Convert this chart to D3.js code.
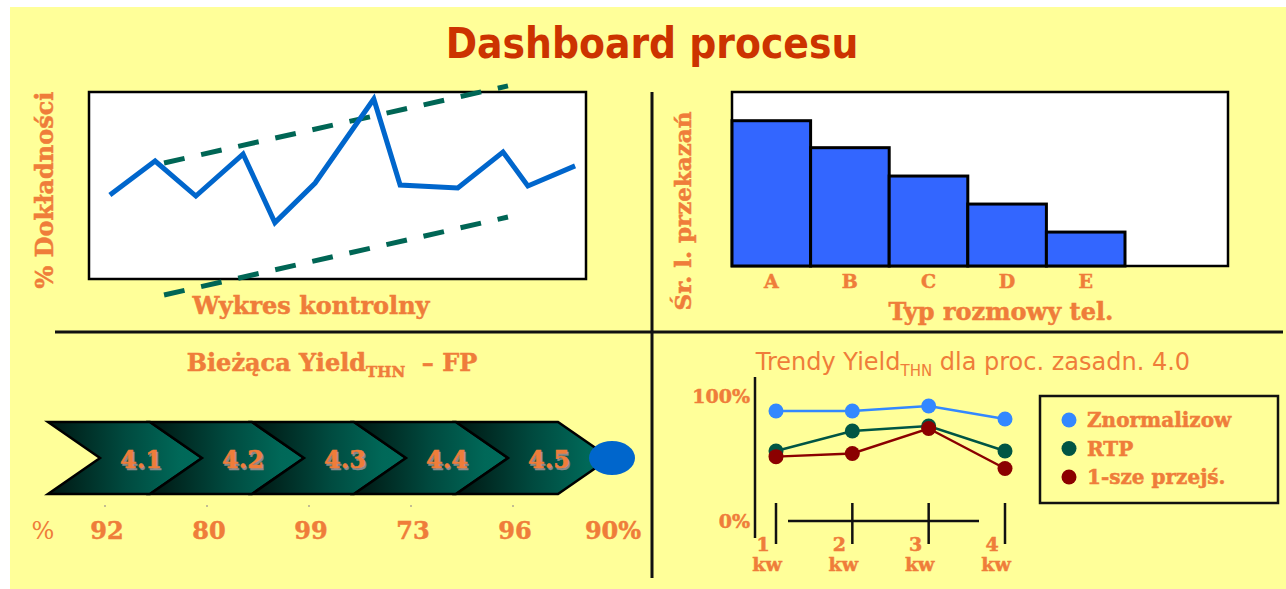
<!DOCTYPE html>
<html><head><meta charset="utf-8">
<script src="https://cdn.jsdelivr.net/npm/d3@7"></script>
<style>html,body{margin:0;padding:0;background:#fff;} svg{display:block;}</style>
</head><body><svg id="chart"></svg>
<script>
// Control chart samples: position along the run (0-100) and accuracy (%)
const controlPos = [4.2, 13.3, 21.5, 31, 37.4, 45.5, 57.3, 62.6, 74.2, 83.3, 88.3, 97.8];
const controlAcc = [45.2, 63.4, 44.6, 67.2, 30.3, 51.6, 96.8, 50.5, 48.9, 68.3, 50, 60.8];
const upperLimit = [[15.1, 62.4], [84.3, 103.8]];
const lowerLimit = [[15.1, -8.6], [84.3, 33.3]];

// Average number of transfers per call type
const callTypes = ["A", "B", "C", "D", "E"];
const avgTransfers = [83.5, 68, 51.7, 35.6, 19.5];

// Current yield per process step
const stages = ["4.1", "4.2", "4.3", "4.4", "4.5"];
const stageYield = [92, 80, 99, 73, 96];
const totalYield = "90%";

// Quarterly yield trends for process 4.0
const quarters = ["1", "2", "3", "4"];
const quarterUnit = "kw";
const seriesNames = ["Znormalizow", "RTP", "1-sze przejś."];
const normYield = [88, 88, 92, 81.6];
const rtpYield = [56, 72, 76, 56];
const firstPassYield = [51.5, 54, 74, 42];
const yieldTicks = [0, 100];

const W = 1286, H = 589;
const ORANGE = "#ef7d3a";
const SERIF = "'DejaVu Serif', serif";
const SANS = "'DejaVu Sans', sans-serif";

const svg = d3.select("#chart").attr("width", W).attr("height", H);
const defs = svg.append("defs");

// page background
svg.append("rect").attr("x", 10).attr("y", 7).attr("width", W - 10).attr("height", H - 7).attr("fill", "#ffff99");

// main title
svg.append("text").attr("x", 652).attr("y", 58).attr("text-anchor", "middle")
  .attr("font-family", "'DejaVu Sans Condensed', 'DejaVu Sans', sans-serif").attr("font-weight", "bold")
  .attr("font-size", 42).attr("fill", "#cc3300").text("Dashboard procesu");

// quadrant dividers
svg.append("line").attr("x1", 55).attr("x2", 1283).attr("y1", 332).attr("y2", 332).attr("stroke", "#111").attr("stroke-width", 3);
svg.append("line").attr("x1", 652).attr("x2", 652).attr("y1", 92).attr("y2", 578).attr("stroke", "#111").attr("stroke-width", 3);

// heavy serif text (stroked slightly to thicken the bold face)
function heavy(sel, col) {
  return sel.attr("stroke", col || ORANGE).attr("stroke-width", 0.5).attr("paint-order", "stroke");
}

function label(g, x, y, txt, size, opts = {}) {
  const t = g.append("text").attr("x", x).attr("y", y)
    .attr("text-anchor", opts.anchor || "middle")
    .attr("font-family", opts.family || SERIF)
    .attr("font-weight", opts.weight || "bold")
    .attr("font-size", size).attr("fill", opts.fill || ORANGE).text(txt);
  if (opts.rotate) t.attr("transform", `rotate(-90,${x},${y})`);
  if ((opts.weight || "bold") === "bold") heavy(t, opts.fill);
  return t;
}

// ---------- Control chart ----------
{
  const g = svg.append("g");
  const x = d3.scaleLinear().domain([0, 100]).range([89, 586]);
  const y = d3.scaleLinear().domain([0, 100]).range([279, 93]);
  g.append("rect").attr("x", x(0)).attr("y", y(100) - 1).attr("width", x(100) - x(0)).attr("height", y(0) - y(100) + 1)
    .attr("fill", "#fff").attr("stroke", "#000").attr("stroke-width", 2.5);
  const limLine = d3.line().x(d => x(d[0])).y(d => y(d[1]));
  [upperLimit, lowerLimit].forEach(lim => {
    g.append("path").attr("d", limLine(lim)).attr("fill", "none")
      .attr("stroke", "#006655").attr("stroke-width", 5).attr("stroke-dasharray", "21 17");
  });
  const pts = controlPos.map((p, i) => [p, controlAcc[i]]);
  g.append("path").attr("d", limLine(pts)).attr("fill", "none")
    .attr("stroke", "#0066cc").attr("stroke-width", 5);
  label(g, 44, 190, "% Dokładności", 24, { rotate: true }).attr("dominant-baseline", "central");
  label(g, 311, 314, "Wykres kontrolny", 24);
}

// ---------- Bar chart ----------
{
  const g = svg.append("g");
  const x = d3.scaleBand().domain(callTypes).range([732, 1125]);
  const y = d3.scaleLinear().domain([0, 100]).range([266, 92]);
  g.append("rect").attr("x", 732).attr("y", y(100)).attr("width", 1228 - 732).attr("height", y(0) - y(100))
    .attr("fill", "#fff").attr("stroke", "#000").attr("stroke-width", 2.5);
  g.selectAll("rect.bar").data(callTypes).join("rect").attr("class", "bar")
    .attr("x", d => x(d)).attr("width", x.bandwidth())
    .attr("y", (d, i) => y(avgTransfers[i])).attr("height", (d, i) => y(0) - y(avgTransfers[i]))
    .attr("fill", "#3366ff").attr("stroke", "#000").attr("stroke-width", 3);
  heavy(g.selectAll("text.cat").data(callTypes).join("text").attr("class", "cat")
    .attr("x", d => x(d) + x.bandwidth() / 2).attr("y", 288).attr("text-anchor", "middle")
    .attr("font-family", SERIF).attr("font-weight", "bold").attr("font-size", 19).attr("fill", ORANGE).text(d => d));
  label(g, 682, 211, "Śr. l. przekazań", 23, { rotate: true }).attr("dominant-baseline", "central");
  label(g, 1001, 320, "Typ rozmowy tel.", 24);
}

// ---------- Process step yields ----------
{
  const g = svg.append("g");
  const t = heavy(g.append("text").attr("x", 332).attr("y", 371).attr("text-anchor", "middle")
    .attr("font-family", SERIF).attr("font-weight", "bold").attr("font-size", 24).attr("fill", ORANGE)
    .style("white-space", "pre"));
  t.append("tspan").text("Bieżąca Yield");
  t.append("tspan").attr("font-size", 15).attr("dy", 6).text("THN");
  t.append("tspan").attr("dy", -6).text("  – FP");

  const x = d3.scaleBand().domain(stages).range([48, 558]);
  const w = x.bandwidth(), tip = 52, top = 422, bot = 494, mid = 458;
  const grad = defs.append("linearGradient").attr("id", "chev").attr("x1", 0).attr("x2", 1).attr("y1", 0).attr("y2", 0);
  grad.append("stop").attr("offset", 0).attr("stop-color", "#001611");
  grad.append("stop").attr("offset", 0.5).attr("stop-color", "#004a3f");
  grad.append("stop").attr("offset", 0.85).attr("stop-color", "#006858");
  grad.append("stop").attr("offset", 1).attr("stop-color", "#006b5b");
  g.selectAll("path.chev").data(stages).join("path").attr("class", "chev")
    .attr("d", d => {
      const x0 = x(d);
      return `M${x0},${top}L${x0 + w},${top}L${x0 + w + tip},${mid}L${x0 + w},${bot}L${x0},${bot}L${x0 + tip},${mid}Z`;
    })
    .attr("fill", "url(#chev)").attr("stroke", "#000").attr("stroke-width", 2.5).attr("stroke-linejoin", "miter");
  // step labels with a soft grey shadow
  [["#8a8a8a", 1.5], [ORANGE, 0]].forEach(([col, off]) => {
    heavy(g.selectAll(null).data(stages).join("text")
      .attr("x", d => x(d) + 93 + off).attr("y", mid + 10 + off).attr("text-anchor", "middle")
      .attr("font-family", SERIF).attr("font-weight", "bold").attr("font-size", 24).attr("fill", col).text(d => d), col);
  });
  g.append("ellipse").attr("cx", x(stages[4]) + w + tip + 2).attr("cy", mid).attr("rx", 23).attr("ry", 17).attr("fill", "#0066cc");
  // small markers under each step
  g.selectAll("circle.tick").data(stages).join("circle").attr("class", "tick")
    .attr("cx", d => x(d) + 57).attr("cy", 506).attr("r", 1).attr("fill", "#b0a890");
  // yield values
  heavy(g.selectAll("text.val").data(stages).join("text").attr("class", "val")
    .attr("x", d => x(d) + 59).attr("y", 539).attr("text-anchor", "middle")
    .attr("font-family", SERIF).attr("font-weight", "bold").attr("font-size", 24).attr("fill", ORANGE)
    .text((d, i) => stageYield[i]));
  label(g, 43, 539, "%", 24, { weight: "normal" });
  label(g, x(stages[4]) + w + tip + 3, 539, totalYield, 24);
}

// ---------- Quarterly trends ----------
{
  const g = svg.append("g");
  const t = g.append("text").attr("x", 973).attr("y", 370).attr("text-anchor", "middle")
    .attr("font-family", SANS).attr("font-size", 24).attr("fill", ORANGE);
  t.append("tspan").text("Trendy Yield");
  t.append("tspan").attr("font-size", 15).attr("dy", 6).text("THN");
  t.append("tspan").attr("dy", -6).text(" dla proc. zasadn. 4.0");

  const x = d3.scalePoint().domain(quarters).range([776, 1005]);
  const y = d3.scaleLinear().domain([0, 100]).range([521, 396]);

  // y axis
  const ya = g.append("g").attr("transform", "translate(755,0)")
    .call(d3.axisLeft(y).tickValues(yieldTicks).tickSize(0).tickPadding(5).tickFormat(d => d + "%"));
  ya.select(".domain").remove();
  heavy(ya.selectAll("text").attr("font-family", SERIF).attr("font-weight", "bold").attr("font-size", 19).attr("fill", ORANGE));
  g.append("line").attr("x1", 755).attr("x2", 755).attr("y1", 377).attr("y2", 538).attr("stroke", "#111").attr("stroke-width", 2.5);

  // x axis
  g.append("line").attr("x1", 788).attr("x2", 979).attr("y1", y(0)).attr("y2", y(0)).attr("stroke", "#111").attr("stroke-width", 2.5);
  g.selectAll("line.qt").data(quarters).join("line").attr("class", "qt")
    .attr("x1", d => x(d)).attr("x2", d => x(d)).attr("y1", 503).attr("y2", 544).attr("stroke", "#111").attr("stroke-width", 2.5);
  const ql = heavy(g.selectAll("text.ql").data(quarters).join("text").attr("class", "ql")
    .attr("text-anchor", "middle").attr("font-family", SERIF).attr("font-weight", "bold").attr("font-size", 19).attr("fill", ORANGE));
  ql.append("tspan").attr("x", d => x(d) - 13).attr("y", 551).text(d => d);
  ql.append("tspan").attr("x", d => x(d) - 9).attr("y", 571).text(quarterUnit);

  const series = [normYield, rtpYield, firstPassYield];
  const colors = ["#3388ff", "#005544", "#8b0000"];
  const line = d3.line().x((d, i) => x(quarters[i])).y(d => y(d));
  series.forEach((s, k) => {
    g.append("path").attr("d", line(s)).attr("fill", "none").attr("stroke", colors[k]).attr("stroke-width", 2.5);
    g.selectAll(null).data(s).join("circle")
      .attr("cx", (d, i) => x(quarters[i])).attr("cy", d => y(d)).attr("r", 7.5).attr("fill", colors[k]);
  });

  // legend
  const lg = g.append("g");
  lg.append("rect").attr("x", 1040).attr("y", 396).attr("width", 238).attr("height", 107)
    .attr("fill", "none").attr("stroke", "#111").attr("stroke-width", 2.5);
  const ly = d3.scalePoint().domain(seriesNames).range([420, 477]);
  lg.selectAll("circle").data(seriesNames).join("circle")
    .attr("cx", 1069).attr("cy", d => ly(d)).attr("r", 7.5).attr("fill", (d, i) => colors[i]);
  heavy(lg.selectAll("text").data(seriesNames).join("text")
    .attr("x", 1087).attr("y", d => ly(d) + 7)
    .attr("font-family", SERIF).attr("font-weight", "bold").attr("font-size", 20).attr("fill", ORANGE).text(d => d));
}
</script></body></html>
